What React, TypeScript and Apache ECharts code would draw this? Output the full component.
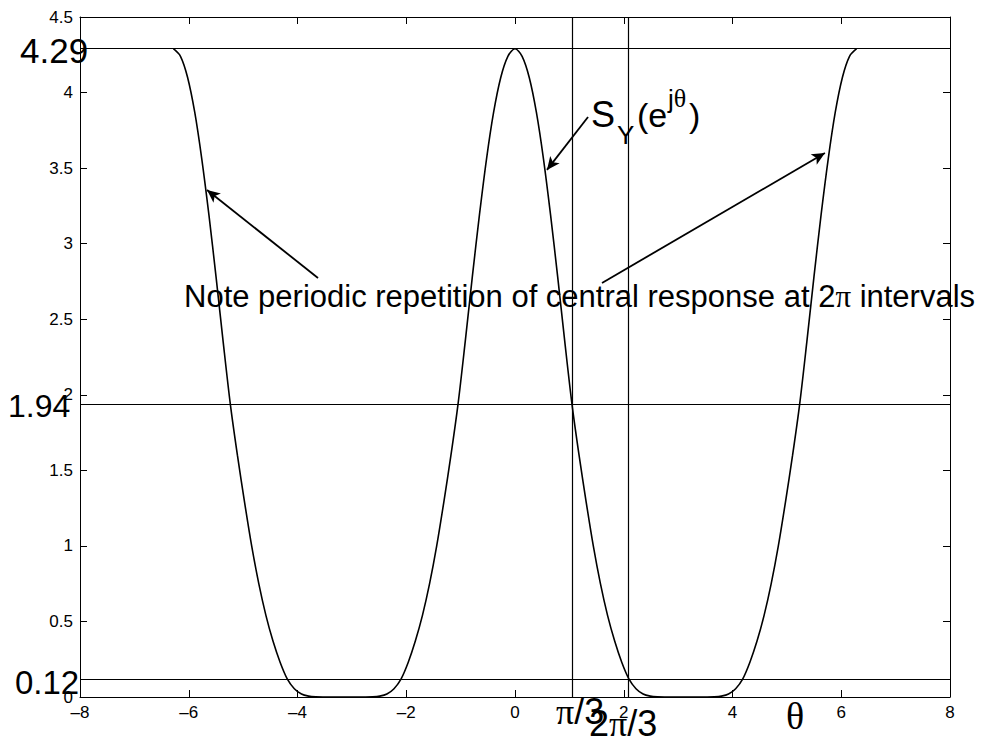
import React, { useEffect, useRef } from "react";
import * as echarts from "echarts";

// θ samples (radians) and S_Y(e^{jθ}) values
const thetas = [
  -6.283, -6.152, -6.021, -5.89, -5.76, -5.629, -5.498, -5.367, -5.236, -5.105, -4.974, -4.843,
  -4.712, -4.581, -4.451, -4.32, -4.189, -4.058, -3.927, -3.796, -3.665, -3.534, -3.403, -3.272,
  -3.142, -3.011, -2.88, -2.749, -2.618, -2.487, -2.356, -2.225, -2.094, -1.963, -1.833, -1.702,
  -1.571, -1.44, -1.309, -1.178, -1.047, -0.916, -0.785, -0.654, -0.524, -0.393, -0.262, -0.131,
  0, 0.131, 0.262, 0.393, 0.524, 0.654, 0.785, 0.916, 1.047, 1.178, 1.309, 1.44,
  1.571, 1.702, 1.833, 1.963, 2.094, 2.225, 2.356, 2.487, 2.618, 2.749, 2.88, 3.011,
  3.142, 3.272, 3.403, 3.534, 3.665, 3.796, 3.927, 4.058, 4.189, 4.32, 4.451, 4.581,
  4.712, 4.843, 4.974, 5.105, 5.236, 5.367, 5.498, 5.629, 5.76, 5.89, 6.021, 6.152, 6.283,
];
const spectrum = [
  // -2π … -π
  4.29, 4.24, 4.1, 3.87, 3.56, 3.19, 2.78, 2.35, 1.94, 1.6, 1.29, 1.0,
  0.75, 0.54, 0.37, 0.23, 0.12, 0.055, 0.02, 0.006, 0.001, 0, 0, 0,
  0,
  // -π … 0
  0, 0, 0, 0.001, 0.006, 0.02, 0.055, 0.12, 0.23, 0.37, 0.54, 0.75,
  1.0, 1.29, 1.6, 1.94, 2.35, 2.78, 3.19, 3.56, 3.87, 4.1, 4.24, 4.29,
  // 0 … π
  4.24, 4.1, 3.87, 3.56, 3.19, 2.78, 2.35, 1.94, 1.6, 1.29, 1.0, 0.75,
  0.54, 0.37, 0.23, 0.12, 0.055, 0.02, 0.006, 0.001, 0, 0, 0, 0,
  // π … 2π
  0, 0, 0, 0.001, 0.006, 0.02, 0.055, 0.12, 0.23, 0.37, 0.54, 0.75,
  1.0, 1.29, 1.6, 1.94, 2.35, 2.78, 3.19, 3.56, 3.87, 4.1, 4.24, 4.29,
];
// reference levels
const levelValues = [4.29, 1.94, 0.12];
const levelLabels = ["4.29", "1.94", "0.12"];
const markerThetas = [1.047, 2.094];
// annotation arrows: [tailθ, tailY, headθ, headY]
const arrows = [
  [-3.623, 2.773, -5.664, 3.355],
  [1.343, 3.838, 0.588, 3.488],
  [1.6, 2.74, 5.7, 3.6],
];
const xTickMin = -8;
const xTickMax = 8;
const xTickStep = 2;
const yTickMin = 0;
const yTickMax = 4.5;
const yTickStep = 0.5;

const SANS = "'Liberation Sans', Arial, Helvetica, sans-serif";
const SERIF = "'Liberation Serif', 'Times New Roman', serif";

function txt(text: string, x: number, baseline: number, size: number, family = SANS, rich?: any) {
  const k = family === SERIF ? 0.3375 : 0.3465;
  return {
    type: "text",
    x,
    y: baseline - k * size,
    silent: true,
    z: 100,
    style: {
      text,
      fill: "#000",
      font: `${size}px ${family}`,
      align: "left",
      verticalAlign: "middle",
      rich,
    },
  };
}

export default function App() {
  const ref = useRef<HTMLDivElement>(null);
  useEffect(() => {
    document.body.style.margin = "0";
    if (!ref.current) return;
    const chart = echarts.init(ref.current, null, { renderer: "svg" });
    const axisLine = { show: true, onZero: false, lineStyle: { color: "#000", width: 1 } };
    const tickIn = { show: true, inside: true, length: 7, lineStyle: { color: "#000", width: 1 } };
    const labelStyle = { color: "#000", fontSize: 17, fontFamily: SANS };
    const piRich = (s: number) => ({ p: { fontFamily: SERIF, fontSize: s } });
    const points = thetas.map((t, i) => [t, spectrum[i]]);
    const option: any = {
      animation: false,
      backgroundColor: "#fff",
      grid: { left: 80, right: 31, top: 17, bottom: 43 },
      xAxis: [
        {
          type: "value", min: xTickMin, max: xTickMax, interval: xTickStep, position: "bottom",
          axisLine, axisTick: tickIn, splitLine: { show: false },
          axisLabel: { ...labelStyle, margin: 7, formatter: (v: number) => String(v).replace("-", "–") },
        },
        {
          type: "value", min: xTickMin, max: xTickMax, interval: xTickStep, position: "top",
          axisLine, axisTick: tickIn, splitLine: { show: false }, axisLabel: { show: false },
        },
      ],
      yAxis: [
        {
          type: "value", min: yTickMin, max: yTickMax, interval: yTickStep, position: "left",
          axisLine, axisTick: tickIn, splitLine: { show: false },
          axisLabel: { ...labelStyle, margin: 7 },
        },
        {
          type: "value", min: yTickMin, max: yTickMax, interval: yTickStep, position: "right",
          axisLine, axisTick: tickIn, splitLine: { show: false }, axisLabel: { show: false },
        },
      ],
      series: [
        {
          type: "line",
          data: points,
          showSymbol: false,
          smooth: 0.3,
          silent: true,
          lineStyle: { color: "#000", width: 1.6 },
          z: 5,
        },
        {
          type: "line",
          data: [],
          silent: true,
          markLine: {
            silent: true,
            symbol: ["none", "none"],
            label: { show: false },
            lineStyle: { color: "#000", width: 1.2, type: "solid" },
            data: [
              ...levelValues.map((v) => ({ yAxis: v })),
              ...markerThetas.map((v) => ({ xAxis: v })),
            ],
          },
        },
        {
          type: "line",
          data: [],
          silent: true,
          markLine: {
            silent: true,
            symbol: ["none", "arrow"],
            symbolSize: [9, 13],
            label: { show: false },
            lineStyle: { color: "#000", width: 1.8, type: "solid" },
            data: arrows.map((a) => [{ coord: [a[0], a[1]] }, { coord: [a[2], a[3]] }]),
          },
        },
      ],
      graphic: [
        txt(levelLabels[0], 20, 63, 35),
        txt(levelLabels[1], 8, 417, 32),
        txt(levelLabels[2], 15, 694, 33),
        txt("{p|π}/3", 556, 724, 36, SANS, piRich(36)),
        txt("2{p|π}/3", 589, 736, 36, SANS, piRich(36)),
        txt("θ", 786, 729, 38, SERIF),
        txt("S", 591, 127, 36),
        txt("Y", 617, 144, 26),
        txt("(e", 637, 127, 34),
        txt("j{t|θ}", 668, 108, 26, SANS, { t: { fontFamily: SERIF, fontSize: 26 } }),
        txt(")", 689, 127, 34),
        txt(
          "Note periodic repetition of central response at 2{p|π} intervals",
          184, 307, 31, SANS, piRich(31)
        ),
      ],
    };
    chart.setOption(option);
    return () => chart.dispose();
  }, []);
  return <div ref={ref} style={{ width: 981, height: 740 }} />;
}
